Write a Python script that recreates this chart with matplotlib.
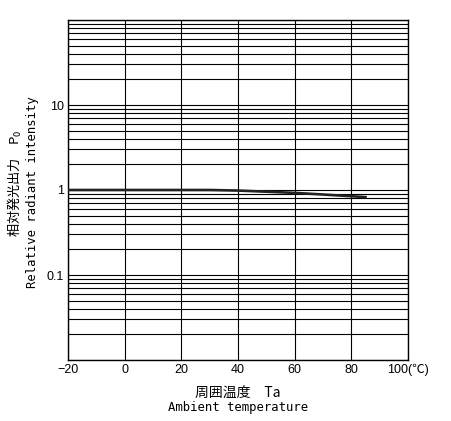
import numpy as np
import matplotlib.pyplot as plt
from matplotlib.ticker import FixedLocator, LogLocator, NullFormatter

# data
temp = [-20, 0, 20, 30, 40, 50, 60, 70, 80, 85]
intensity = [1.0, 1.0, 1.0, 1.0, 0.985, 0.955, 0.925, 0.885, 0.845, 0.825]

x_ticks = [-20, 0, 20, 40, 60, 80, 100]
x_labels = ['\u221220', '0', '20', '40', '60', '80', '100(\u2103)']
y_ticks = [0.1, 1, 10]
y_labels = ['0.1', '1', '10']

jp = ['Noto Sans CJK JP', 'DejaVu Sans']
mono = ['DejaVu Sans Mono', 'Noto Sans CJK JP']

fig = plt.figure(figsize=(4.52, 4.21), dpi=100)
ax = fig.add_axes([68/452, 61/421, 340/452, 340/421])

ax.plot(temp, intensity, color='#222222', linewidth=1.9, zorder=3)

ax.set_yscale('log')
ax.set_xlim(-20, 100)
ax.set_ylim(0.01, 100)

ax.xaxis.set_major_locator(FixedLocator(x_ticks))
ax.set_xticklabels(x_labels, family=['Liberation Sans', 'Noto Sans CJK JP'], fontsize=9)
ax.yaxis.set_major_locator(FixedLocator(y_ticks))
ax.set_yticklabels(y_labels, family='Liberation Sans', fontsize=9)
ax.yaxis.set_minor_locator(LogLocator(base=10, subs=np.arange(2, 10)))
ax.yaxis.set_minor_formatter(NullFormatter())
ax.tick_params(which='both', length=0, pad=3)

# full grid: every decade and every minor step
for yv in [0.01, 0.1, 1, 10, 100]:
    ax.axhline(yv, color='black', linewidth=0.8, zorder=1)
for dec in [0.01, 0.1, 1, 10]:
    for s in range(2, 10):
        ax.axhline(dec * s, color='black', linewidth=0.8, zorder=1)
for xv in x_ticks:
    ax.axvline(xv, color='black', linewidth=0.8, zorder=1)

for sp in ax.spines.values():
    sp.set_linewidth(1.0)

# axis titles (two lines each)
fig.text(238/452, 1 - 393/421, '周囲温度　Ta', family=jp, fontsize=10,
         ha='center', va='center')
fig.text(238/452, 1 - 408/421, 'Ambient temperature', family=mono, fontsize=8.8,
         ha='center', va='center')
fig.text(15/452, 1 - 183/421, '相対発光出力　P$_\\mathregular{0}$', family=jp, fontsize=9.5,
         rotation=90, ha='center', va='center')
fig.text(33/452, 1 - 192/421, 'Relative radiant intensity', family=mono, fontsize=8.8,
         rotation=90, ha='center', va='center')

fig.savefig('out.png', dpi=100)
